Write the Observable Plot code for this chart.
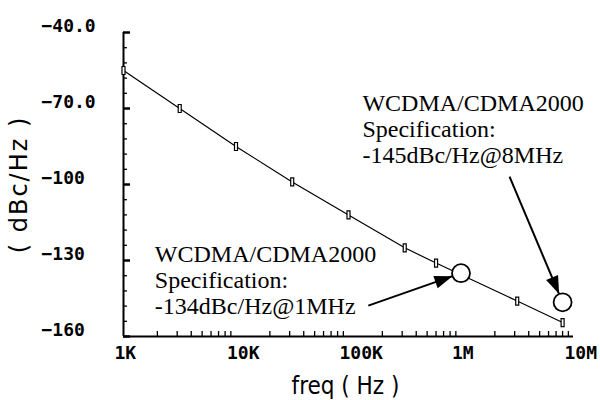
<!DOCTYPE html>
<html>
<head>
<meta charset="utf-8">
<script src="https://cdn.jsdelivr.net/npm/d3@7"></script>
<script src="https://cdn.jsdelivr.net/npm/@observablehq/plot@0.6"></script>
<style>
  html, body { margin: 0; padding: 0; background: #fff; }
</style>
</head>
<body>
<div id="chart"></div>
<script>
// Phase-noise curve (frequency offset in Hz, dBc/Hz)
const freqHz = [1e3, 3.16e3, 1e4, 3.16e4, 1e5, 3.16e5, 6e5, 3.16e6, 8e6];
const noiseDb = [-55, -70, -85, -99, -112, -125, -131, -146, -154.5];

// Specification points (circles)
const specFreqHz = [1e6, 8e6];
const specDb = [-135, -146.5];

// Annotation texts and their anchor positions (data units)
const noteText = [
  "WCDMA/CDMA2000\nSpecification:\n-134dBc/Hz@1MHz",
  "WCDMA/CDMA2000\nSpecification:\n-145dBc/Hz@8MHz"
];
const noteFreqHz = [1.9e3, 1.33e5];
const noteDb = [-137.5, -77.9];

// Arrow tails (heads point at the spec circles)
const arrowTailFreqHz = [1.5e5, 2.7e6];
const arrowTailDb = [-147.8, -96.9];

// Axis ticks and labels
const yTicks = [-40, -70, -100, -130, -160];
const yTickLabels = ["−40.0", "−70.0", "−100", "−130", "−160"];
const yMinorTicks = [-154, -148, -142, -136, -124, -118, -112, -106, -94, -88, -82, -76, -64, -58, -52, -46];
const xTicks = [1e3, 1e4, 1e5, 1e6, 1e7];
const xTickLabels = ["1K", "10K", "100K", "1M", "10M"];
const xDecades = [1e3, 1e4, 1e5, 1e6];
const xMinorMultipliers = [2, 3, 4, 5, 6, 7, 8, 9];
const xTitle = "freq ( Hz )";
const yTitle = "( dBc/Hz )";

// Tables built from the arrays
const curve = freqHz.map((f, i) => ({f, db: noiseDb[i]}));
const specs = specFreqHz.map((f, i) => ({f, db: specDb[i]}));
const notes = noteText.map((t, i) => ({t, f: noteFreqHz[i], db: noteDb[i]}));
const arrows = specs.map((s, i) => ({x1: arrowTailFreqHz[i], y1: arrowTailDb[i], x2: s.f, y2: s.db}));
const xMinorTicks = xDecades.flatMap(d => xMinorMultipliers.map(m => d * m));

const numFont = "'DejaVu Sans Mono', monospace";
const serif = "'Liberation Serif', 'Times New Roman', serif";

const barSymbol = {
  draw(context) {
    context.rect(-1.5, -4, 3, 8);
  }
};

const chart = Plot.plot({
  width: 600,
  height: 400,
  marginLeft: 123,
  marginRight: 27,
  marginTop: 32,
  marginBottom: 64,
  x: {type: "log", domain: [1e3, 1e7]},
  y: {domain: [-160, -40]},
  style: {background: "white", color: "black", overflow: "visible"},
  marks: [
    Plot.axisX({ticks: xMinorTicks, tickSize: -5, tickFormat: () => "", label: null, strokeWidth: 1.3}),
    Plot.axisY({ticks: yMinorTicks, tickSize: -4, tickFormat: () => "", label: null, strokeWidth: 1.3}),
    Plot.axisY({ticks: yTicks, tickSize: -7, tickFormat: () => "", label: yTitle, labelAnchor: "center", labelOffset: 114, labelArrow: "none", fontSize: 24, fontFamily: "'DejaVu Sans', sans-serif", strokeWidth: 2.5}),
    Plot.ruleX([1e3], {strokeWidth: 2}),
    Plot.ruleY([-160], {strokeWidth: 2}),
    Plot.text(yTicks, {frameAnchor: "left", y: d => d, text: (d, i) => yTickLabels[i], textAnchor: "start", lineAnchor: "middle", dx: -82, dy: -6, fontSize: 18, fontWeight: "bold", fontFamily: numFont}),
    Plot.text(xTicks, {frameAnchor: "bottom", x: d => d, text: (d, i) => xTickLabels[i], textAnchor: "start", lineAnchor: "middle", dx: -9, dy: 17, fontSize: 18, fontWeight: "bold", fontFamily: numFont}),
    Plot.text([xTitle], {frameAnchor: "bottom", text: d => d, lineAnchor: "middle", dy: 50, dx: -3, fontSize: 24, fontFamily: "'DejaVu Sans Condensed', 'DejaVu Sans', sans-serif"}),
    Plot.line(curve, {x: "f", y: "db", stroke: "black", strokeWidth: 1.2}),
    Plot.dot(curve, {x: "f", y: "db", symbol: barSymbol, stroke: "black", fill: "white", strokeWidth: 1.2}),
    Plot.link(arrows, {x1: "x1", y1: "y1", x2: "x2", y2: "y2", stroke: "black", strokeWidth: 2}),
    Plot.dot(specs, {x: "f", y: "db", r: 9, fill: "white", stroke: "black", strokeWidth: 1.8}),
    Plot.text(notes, {x: "f", y: "db", text: "t", textAnchor: "start", lineAnchor: "middle", lineHeight: 1.08, fontSize: 24, fontFamily: serif})
  ]
});

// Filled arrowheads ending at the circle edge
const svg = d3.select(chart);
const defs = svg.insert("defs", ":first-child");
defs.append("marker")
  .attr("id", "arrowhead")
  .attr("markerUnits", "userSpaceOnUse")
  .attr("orient", "auto")
  .attr("overflow", "visible")
  .attr("markerWidth", 1)
  .attr("markerHeight", 1)
  .attr("refX", 0)
  .attr("refY", 0)
  .append("path")
  .attr("d", "M-27,-6.5L-9,0L-27,6.5Z")
  .attr("fill", "black");
svg.selectAll('g[aria-label="link"] path').attr("marker-end", "url(#arrowhead)");
svg.selectAll('g[aria-label="y-axis label"] text').style("letter-spacing", "2px");

document.getElementById("chart").appendChild(chart);
</script>
</body>
</html>
